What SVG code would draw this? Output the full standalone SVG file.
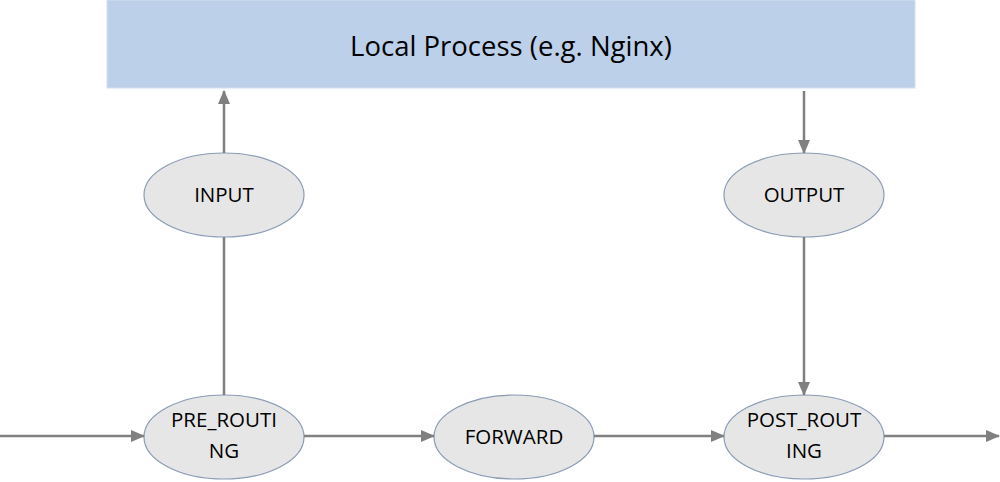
<svg xmlns="http://www.w3.org/2000/svg" width="1000" height="482" viewBox="0 0 1000 482">
<defs>
<marker id="ah" markerWidth="14" markerHeight="12" refX="13" refY="6" orient="auto" markerUnits="userSpaceOnUse" viewBox="0 0 14 12">
<path d="M0,0 L14,6 L0,12 z" fill="#808080"/>
</marker>
<style>
.n{fill:#e6e6e6;stroke:#8a9bb5;stroke-width:1.2}
.t{font-family:"Open Sans","Liberation Sans",sans-serif;font-size:20.5px;fill:#000;text-anchor:middle}
.c{stroke:#808080;stroke-width:2.5;fill:none}
</style>
</defs>
<rect width="1000" height="482" fill="#fff"/>
<g id="local">
<rect x="107" y="0" width="808" height="88" fill="#bcd0e9" stroke="#d4dfee" stroke-width="1"/>
<text x="511" y="56" class="t" style="font-size:27.5px">Local Process (e.g. Nginx)</text>
</g>
<g id="input"><ellipse cx="224" cy="195" rx="80" ry="42" class="n"/><text x="224" y="202" class="t">INPUT</text></g>
<g id="output"><ellipse cx="804" cy="195" rx="80" ry="42" class="n"/><text x="804" y="202" class="t">OUTPUT</text></g>
<g id="prerouting"><ellipse cx="224" cy="437" rx="80" ry="42" class="n"/><text x="224" y="427" class="t">PRE_ROUTI</text><text x="224" y="458" class="t">NG</text></g>
<g id="forward"><ellipse cx="514" cy="437" rx="80" ry="42" class="n"/><text x="514" y="444" class="t">FORWARD</text></g>
<g id="postrouting"><ellipse cx="804" cy="437" rx="80" ry="42" class="n"/><text x="804" y="427" class="t">POST_ROUT</text><text x="804" y="458" class="t">ING</text></g>
<g id="connectors">
<line x1="0" y1="436" x2="144" y2="436" class="c" marker-end="url(#ah)"/>
<line x1="304" y1="436" x2="434" y2="436" class="c" marker-end="url(#ah)"/>
<line x1="594" y1="436" x2="724" y2="436" class="c" marker-end="url(#ah)"/>
<line x1="884" y1="436" x2="999" y2="436" class="c" marker-end="url(#ah)"/>
<line x1="224" y1="395" x2="224" y2="237" class="c"/>
<line x1="224" y1="153" x2="224" y2="91" class="c" marker-end="url(#ah)"/>
<line x1="804" y1="91" x2="804" y2="153" class="c" marker-end="url(#ah)"/>
<line x1="804" y1="237" x2="804" y2="395" class="c" marker-end="url(#ah)"/>
</g>
</svg>
